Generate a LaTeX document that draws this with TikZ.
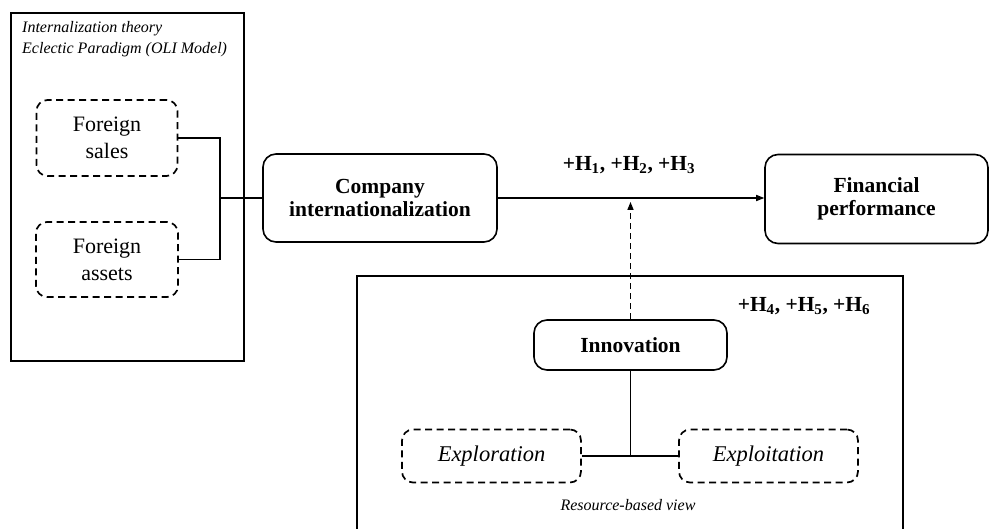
\documentclass[tikz,border=0pt]{standalone}
\usepackage{fontspec}
\setmainfont{Liberation Serif}
\usetikzlibrary{arrows.meta}

\begin{document}
\begin{tikzpicture}[
    x=1pt, y=-1pt,
    >={Triangle[angle=45:8pt,length=8pt]},
    every node/.style={align=center, inner sep=0pt},
    frame/.style={draw, line width=1.3pt},
    mainbox/.style={draw, rounded corners=13pt, line width=1.6pt,
      font=\fontsize{21.5}{23}\selectfont\bfseries},
    dashbox/.style={draw, rounded corners=11pt, line width=1.7pt,
      dash pattern=on 7pt off 4.5pt},
    note/.style={font=\fontsize{16}{18}\selectfont\itshape},
    hyp/.style={font=\fontsize{21.5}{23}\selectfont\bfseries},
    link/.style={line width=1.2pt}]
  \useasboundingbox (0,0) rectangle (990,529);
  % theory frames
  \node[frame, minimum width=233pt, minimum height=348pt] (theoryL) at (127.5,187) {};
  \draw[frame] (357,540) -- (357,276) -- (903,276) -- (903,540);
  \node[note, anchor=west] (theo1) at (22,29) {Internalization theory};
  \node[note, anchor=west] (theo2) at (22,50) {Eclectic Paradigm (OLI Model)};
  \node[note] (rbv) at (628,505) {Resource-based view};
  % measures of internationalization
  \node[dashbox, minimum width=141pt, minimum height=76pt,
    font=\fontsize{22}{27}\selectfont] (sales) at (107,138) {Foreign\\sales};
  \node[dashbox, minimum width=142pt, minimum height=75pt,
    font=\fontsize{22}{27}\selectfont] (assets) at (107,259.5) {Foreign\\assets};
  % main constructs
  \node[mainbox, minimum width=234pt, minimum height=88pt] (company) at (380,198)
    {Company\\internationalization};
  \node[mainbox, minimum width=223pt, minimum height=89pt] (finperf) at (876.5,199)
    {Financial\\performance};
  \node[mainbox, minimum width=193pt, minimum height=50pt] (innov) at (630.5,345)
    {Innovation};
  \node[dashbox, minimum width=179pt, minimum height=53pt,
    font=\fontsize{22.5}{27}\selectfont\itshape] (explor) at (491.5,456) {Exploration};
  \node[dashbox, minimum width=179pt, minimum height=53pt,
    font=\fontsize{22.5}{27}\selectfont\itshape] (exploit) at (768.5,456) {Exploitation};
  % hypotheses
  \node[hyp] (hypA) at (629,165)
    {+H\textsubscript{1}, +H\textsubscript{2}, +H\textsubscript{3}};
  \node[hyp] (hypB) at (804,306)
    {+H\textsubscript{4}, +H\textsubscript{5}, +H\textsubscript{6}};
  % connectors
  \coordinate (jL) at (220,198);
  \coordinate (jR) at (innov.south |- explor.east);
  \draw[link] (sales.east) -| (jL) -- (company.west);
  \draw[link] (assets.east) -| (jL);
  \draw[link, ->] (company.east) -- (finperf.west |- company.east);
  \draw[link, dash pattern=on 6pt off 4pt, ->] (innov.north)
    -- ([yshift=-4pt]innov.north |- company.east);
  \draw[link, line width=1.5pt] (innov.south) -- (jR);
  \draw[link, line width=1.5pt] (explor.east) -- (exploit.west);
\end{tikzpicture}
\end{document}
